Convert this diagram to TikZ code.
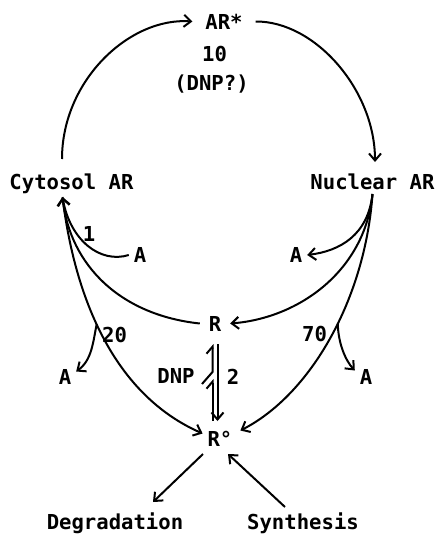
\documentclass[tikz,border=0pt]{standalone}
\usepackage{fontspec}
\setmainfont{DejaVu Sans Mono}
\usetikzlibrary{arrows.meta}
\begin{document}
\begin{tikzpicture}[x=0.5pt,y=-0.5pt,line width = 1pt,
  lbl/.style={inner sep=2pt,text height=7.5pt,text depth=0pt,font=\fontsize{10.3}{12}\selectfont\bfseries},
  >={Straight Barb[length=3.5pt,width=6pt]},
  hp/.style={-{Straight Barb[harpoon,length=3.5pt,width=6pt]}}]
\useasboundingbox (0,0) rectangle (437,536);
\node[lbl,inner xsep=6pt] (arstar) at (224,21.5) {AR*};
\node[lbl] (ten) at (214.5,53.5) {10};
\node[lbl] (dnpq) at (211.5,83) {(DNP?)};
\node[lbl] (cyto) at (71.5,181.5) {Cytosol AR};
\node[lbl] (nuc) at (372.5,181.5) {Nuclear AR};
\node[lbl] (one) at (89,233.5) {1};
\node[lbl] (aone) at (140,255) {A};
\node[lbl] (anuc) at (296,255) {A};
\node[lbl,inner xsep=4pt] (r) at (215,323.5) {R};
\node[lbl] (twenty) at (114.5,335) {20};
\node[lbl] (seventy) at (314.5,333.5) {70};
\node[lbl] (aleft) at (65,376.5) {A};
\node[lbl] (aright) at (366,376.5) {A};
\node[lbl] (dnp) at (176,376) {DNP};
\node[lbl] (two) at (233,377) {2};
\node[lbl] (rzero) at (220,438.5) {R°};
\node[lbl] (degr) at (115,522) {Degradation};
\node[lbl] (synth) at (303,522) {Synthesis};
\coordinate (gapl) at (212.5,379);
\coordinate (slashl) at (202,384);
\coordinate (slashu) at (212.5,372);
\draw[->] ([xshift=-4.75pt,yshift=5pt]cyto.north) .. controls (62,80) and (130,17) .. (arstar.west);
\draw[->] (arstar.east) .. controls (315,21) and (375,90) .. ([xshift=1.25pt,yshift=3.5pt]nuc.north);
\draw[->] (aone.west) .. controls (100,264) and (70,240) .. ([xshift=-4.5pt,yshift=-1.5pt]cyto.south);
\draw[->] (r.west) .. controls (120,315) and (70,265) .. ([xshift=-4.5pt,yshift=-1.5pt]cyto.south);
\draw[->] ([xshift=-4.5pt,yshift=-1.5pt]cyto.south) .. controls (75,300) and (115,395) .. ([yshift=2.5pt]rzero.west) coordinate[pos=0.44] (brl);
\draw[->] (brl) .. controls (93,342) and (92,360) .. ([yshift=2.5pt]aleft.east);
\draw[->] (nuc.south) .. controls (368,235) and (340,251) .. (anuc.east);
\draw[->] (nuc.south) .. controls (365,270) and (300,318) .. (r.east);
\draw[->] (nuc.south) .. controls (365,300) and (310,395) .. ([xshift=1.5pt,yshift=4pt]rzero.east) coordinate[pos=0.44] (brr);
\draw[->] (brr) .. controls (338,342) and (345,360) .. ([yshift=3pt]aright.west);
\draw[->] ([xshift=1.25pt,yshift=-4pt]r.south) -- ([xshift=-1.25pt,yshift=2.5pt]rzero.north);
\draw[hp] ([xshift=-3.75pt,yshift=2.5pt]rzero.north) -- (gapl);
\draw[hp] (slashl) -- (slashu) -- ([xshift=-1.25pt,yshift=-4pt]r.south);
\draw[->] ([xshift=-8.5pt,yshift=-1.5pt]rzero.south) -- ([xshift=19pt,yshift=3.75pt]degr.north);
\draw[->] ([xshift=-9pt,yshift=1.25pt]synth.north) -- ([xshift=4pt,yshift=-1.5pt]rzero.south);
\end{tikzpicture}
\end{document}
